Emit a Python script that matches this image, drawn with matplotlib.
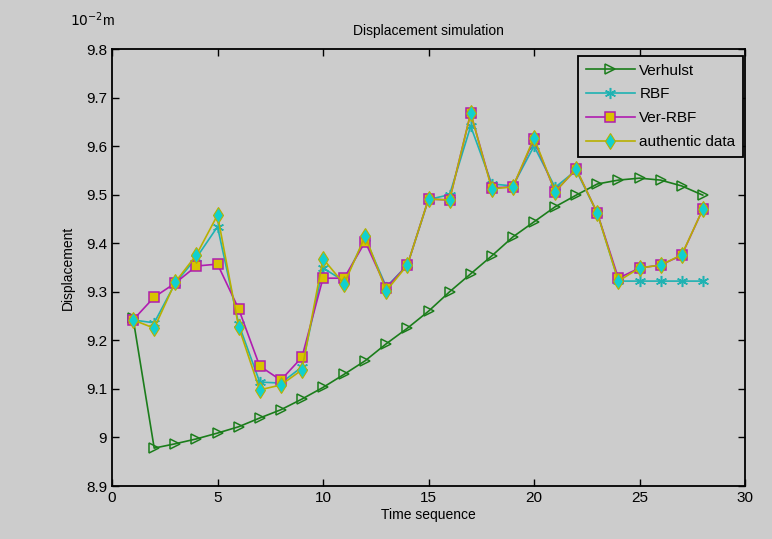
import numpy as np
import matplotlib
matplotlib.use('Agg')
import matplotlib.pyplot as plt

plt.rcParams['font.family'] = ['Liberation Sans', 'DejaVu Sans']

t = np.arange(1, 29)

verhulst = [9.245, 8.978, 8.987, 8.997, 9.009, 9.022, 9.040, 9.057, 9.079, 9.103,
            9.130, 9.158, 9.193, 9.225, 9.260, 9.300, 9.337, 9.374, 9.413, 9.444,
            9.475, 9.499, 9.522, 9.530, 9.534, 9.530, 9.518, 9.499]

rbf = [9.242, 9.236, 9.318, 9.370, 9.434, 9.234, 9.114, 9.112, 9.145, 9.349,
       9.322, 9.410, 9.310, 9.355, 9.490, 9.500, 9.641, 9.522, 9.518, 9.600,
       9.515, 9.550, 9.462, 9.322, 9.322, 9.322, 9.322, 9.322]

ver_rbf = [9.242, 9.289, 9.318, 9.353, 9.357, 9.265, 9.147, 9.118, 9.165, 9.328,
           9.328, 9.403, 9.308, 9.355, 9.491, 9.489, 9.668, 9.514, 9.516, 9.614,
           9.506, 9.553, 9.462, 9.328, 9.349, 9.355, 9.375, 9.470]

authentic = [9.242, 9.225, 9.320, 9.376, 9.458, 9.228, 9.098, 9.108, 9.139, 9.368,
             9.316, 9.415, 9.302, 9.355, 9.491, 9.489, 9.668, 9.512, 9.516, 9.617,
             9.506, 9.553, 9.462, 9.322, 9.349, 9.355, 9.376, 9.470]

bg = '#cccccc'
fig = plt.figure(figsize=(7.72, 5.39), dpi=100, facecolor=bg)
ax = fig.add_axes([112/772, 1 - 486/539, (745-112)/772, (486-49)/539])
ax.set_facecolor(bg)

ax.plot(t, verhulst, color='#1b7d1b', lw=1.2, marker='>', ms=7.5,
        mfc='none', mec='#1b7d1b', mew=1.1, label='Verhulst')
ax.plot(t, rbf, color='#1fb2b2', lw=1.2, marker=(6, 2, 0), ms=8,
        mfc='#1fb2b2', mec='#1fb2b2', mew=1.1, label='RBF')
ax.plot(t, ver_rbf, color='#b01cb0', lw=1.2, marker='s', ms=7,
        mfc='#d8c400', mec='#b01cb0', mew=1.1, label='Ver-RBF')
ax.plot(t, authentic, color='#b8b000', lw=1.2, marker='d', ms=8,
        mfc='#10d0d0', mec='#b8b000', mew=0.8, label='authentic data')

ax.set_xlim(0, 30)
ax.set_ylim(8.9, 9.8)
ax.set_xticks(np.arange(0, 31, 5))
ax.set_yticks(np.arange(8.9, 9.81, 0.1))
ax.set_yticklabels(['8.9', '9', '9.1', '9.2', '9.3', '9.4', '9.5', '9.6', '9.7', '9.8'])
ax.tick_params(direction='in', top=True, right=True, length=5, width=1,
               labelsize=11, colors='black')
for s in ax.spines.values():
    s.set_linewidth(1.3)

ax.set_title('Displacement simulation', fontsize=10, pad=10)
ax.set_xlabel('Time sequence', fontsize=10, labelpad=2)
ax.set_ylabel('Displacement', fontsize=10, labelpad=8)
fig.text(70/772, 1 - 20/539, r'$10^{-2}$m', fontsize=10, va='center', ha='left',
         math_fontfamily='dejavusans')

leg = ax.legend(loc='upper right', bbox_to_anchor=(0.997, 0.984), fontsize=11,
                frameon=True, fancybox=False, facecolor=bg, edgecolor='black',
                handlelength=3.2, borderpad=0.5, labelspacing=0.64,
                handletextpad=0.3, borderaxespad=0.0)
leg.get_frame().set_linewidth(1.3)
leg.get_frame().set_alpha(1)

fig.savefig('out.png', dpi=100, facecolor=bg)
